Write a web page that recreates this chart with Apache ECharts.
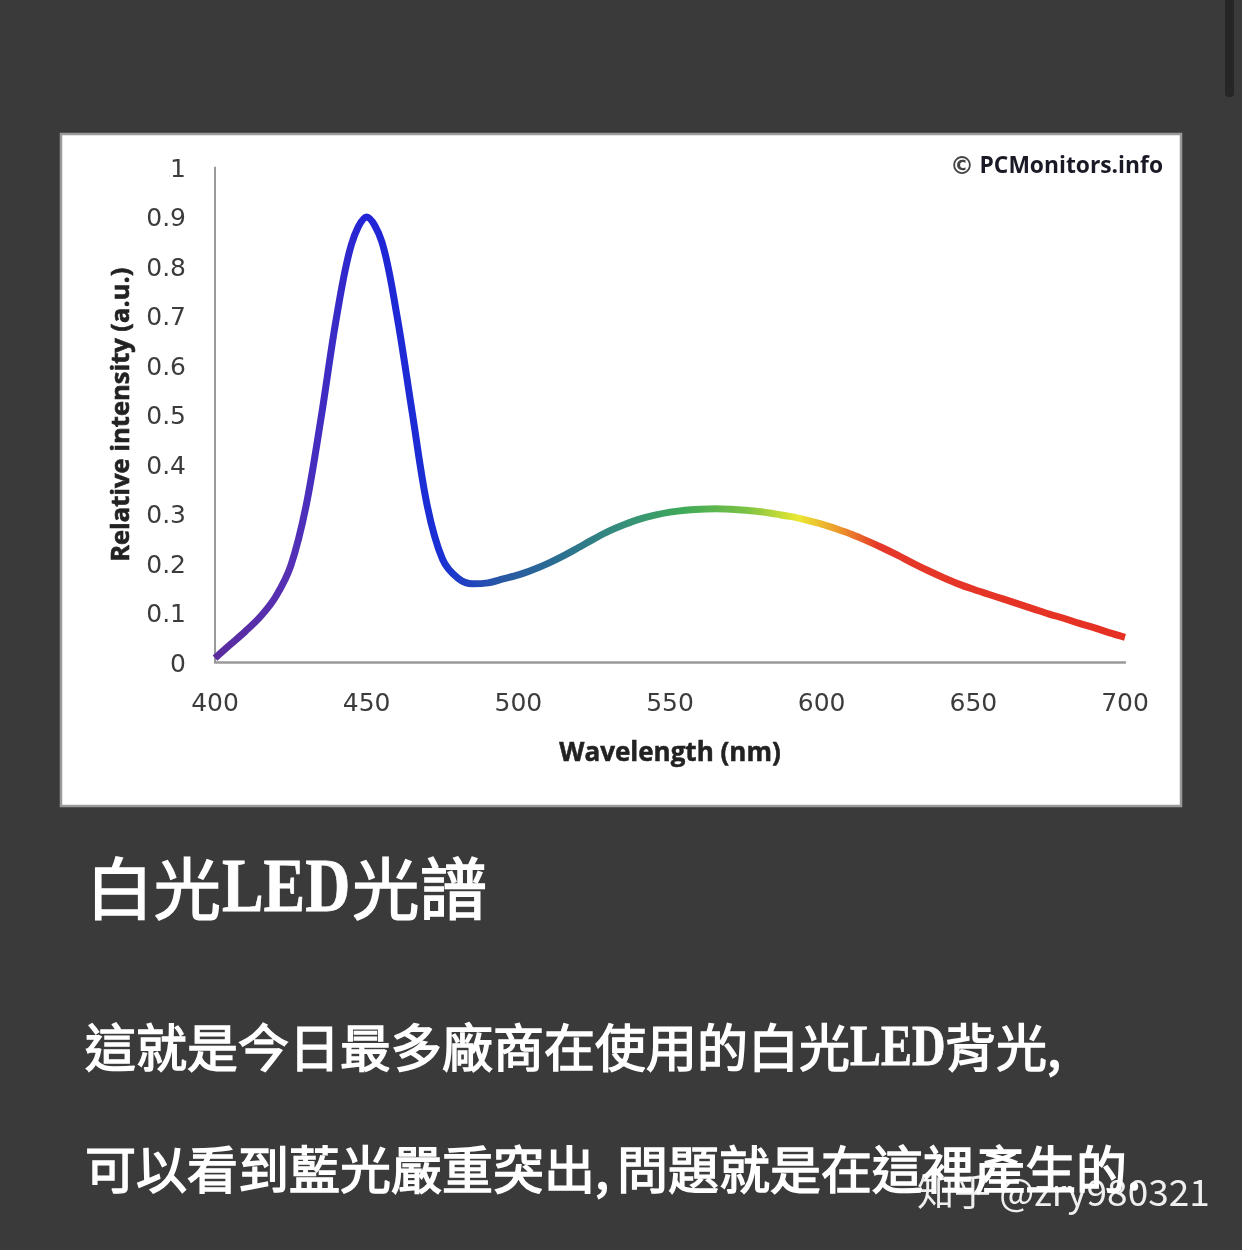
<!DOCTYPE html>
<html><head><meta charset="utf-8">
<style>html,body{margin:0;padding:0;background:#3a3a3a}#c{width:1242px;height:1250px}</style>
<script src="https://cdn.jsdelivr.net/npm/echarts@6/dist/echarts.min.js"></script>
</head><body><div id="c"></div>
<script>
const wavelengths = [400,405,410,415,420,425,430,435,440,445,450,455,460,465,470,475,480,485,490,495,500,505,510,515,520,525,530,535,540,545,550,555,560,565,570,575,580,585,590,595,600,605,610,615,620,625,630,635,640,645,650,655,660,665,670,675,680,685,690,695,700];
const intensity   = [0.008,0.035,0.062,0.092,0.132,0.195,0.315,0.495,0.695,0.845,0.90,0.85,0.70,0.505,0.315,0.208,0.170,0.158,0.160,0.168,0.176,0.187,0.20,0.215,0.232,0.249,0.265,0.278,0.289,0.297,0.303,0.307,0.309,0.31,0.309,0.307,0.304,0.299,0.294,0.287,0.279,0.269,0.258,0.245,0.231,0.216,0.20,0.185,0.171,0.158,0.147,0.137,0.127,0.117,0.107,0.097,0.088,0.078,0.069,0.059,0.05];
const colorWavelengths = [400,425,440,450,475,495,515,535,555,575,592,605,618,700];
const colorValues = ['#5a2c9c','#5630b4','#3a2cc6','#2224d6','#1a30d4','#2858a4','#2c7090','#36907a','#3faa58','#7cc244','#ebe832','#ec9a2c','#e5382a','#e53022'];
const watermark = '知乎 @zry980321';
const xName = 'Wavelength (nm)';
const yName = 'Relative intensity (a.u.)';

const CJK = '"Noto Sans CJK TC"';
const SERIF = '"Liberation Serif"';
function cjk(text,x,y,size){
  return {type:'text',x:x,y:y,style:{text:text,verticalAlign:'middle',font:'normal '+size+'px '+CJK,fill:'#fff',stroke:'#fff',lineWidth:1.5}};
}
function serif(text,x,y,size,sx){
  return {type:'text',x:x,y:y,scaleX:sx,style:{text:text,verticalAlign:'middle',font:'bold '+size+'px '+SERIF,fill:'#fff',stroke:'#fff',lineWidth:0.8}};
}
const chart = echarts.init(document.getElementById('c'));
chart.setOption({
  animation:false,
  backgroundColor:'#3a3a3a',
  grid:{left:215,right:117,top:167.5,bottom:588},
  graphic:[
    {type:'rect',z:-10,shape:{x:61,y:134,width:1120,height:672},style:{fill:'#fff',stroke:'#9a9a9a',lineWidth:2.5}},
    {type:'rect',shape:{x:1225,y:-10,width:9,height:107,r:4},style:{fill:'#262626'}},
    {type:'text',x:1163,y:167,style:{text:'PCMonitors.info',align:'right',verticalAlign:'middle',font:'bold 22.8px "Open Sans"',fill:'#1a1a26'}},
    {type:'text',x:950,y:168,style:{text:'©',verticalAlign:'middle',font:'bold 24px "DejaVu Sans"',fill:'#444'}},
    cjk('白光',86,888,67.5),
    serif('LED',222,891,76,0.82),
    cjk('光譜',352,888,67.5),
    cjk('這就是今日最多廠商在使用的白光',85,1048,51),
    serif('LED',850,1050,58,0.8),
    cjk('背光,',945,1048,51),
    cjk('可以看到藍光嚴重突出,',85,1170,51),
    cjk('問題就是在這裡產生的.',617,1170,51),
    {type:'text',x:917,y:1192,z:20,style:{text:watermark,verticalAlign:'middle',font:'normal 37px '+CJK,fill:'rgba(255,255,255,0.92)',
      shadowColor:'rgba(0,0,0,0.6)',shadowBlur:3,shadowOffsetX:2,shadowOffsetY:2}}
  ],
  xAxis:{type:'value',min:400,max:700,interval:50,
    name:xName,nameLocation:'middle',nameGap:79,
    nameTextStyle:{fontFamily:'Open Sans',fontWeight:'bold',fontSize:26,color:'#222',textBorderColor:'#222',textBorderWidth:0.5},
    axisLine:{show:true,onZero:false,lineStyle:{color:'#999',width:2.5}},axisTick:{show:false},splitLine:{show:false},
    axisLabel:{margin:30,fontFamily:'DejaVu Sans',fontSize:25,color:'#3c3c3c',hideOverlap:false}},
  yAxis:{type:'value',min:0,max:1,interval:0.1,
    name:yName,nameLocation:'middle',nameGap:80,
    nameTextStyle:{fontFamily:'Open Sans',fontWeight:'bold',fontSize:25.5,color:'#222',textBorderColor:'#222',textBorderWidth:0.6},
    axisLine:{show:true,onZero:false,lineStyle:{color:'#999',width:2}},axisTick:{show:false},splitLine:{show:false},
    axisLabel:{margin:29,formatter:'{v|{value}}',rich:{v:{padding:[6,0,0,0],fontFamily:'DejaVu Sans',fontSize:25,color:'#3c3c3c'}},hideOverlap:false}},
  series:[{type:'line',showSymbol:false,symbol:'none',smooth:0.33,clip:false,
    data:wavelengths.map((w,i)=>[w,intensity[i]]),
    lineStyle:{width:7,cap:'butt',join:'round',color:{type:'linear',x:0,y:0,x2:1,y2:0,
      colorStops:colorWavelengths.map((w,i)=>({offset:(w-400)/300,color:colorValues[i]}))}}}]
});
</script></body></html>
